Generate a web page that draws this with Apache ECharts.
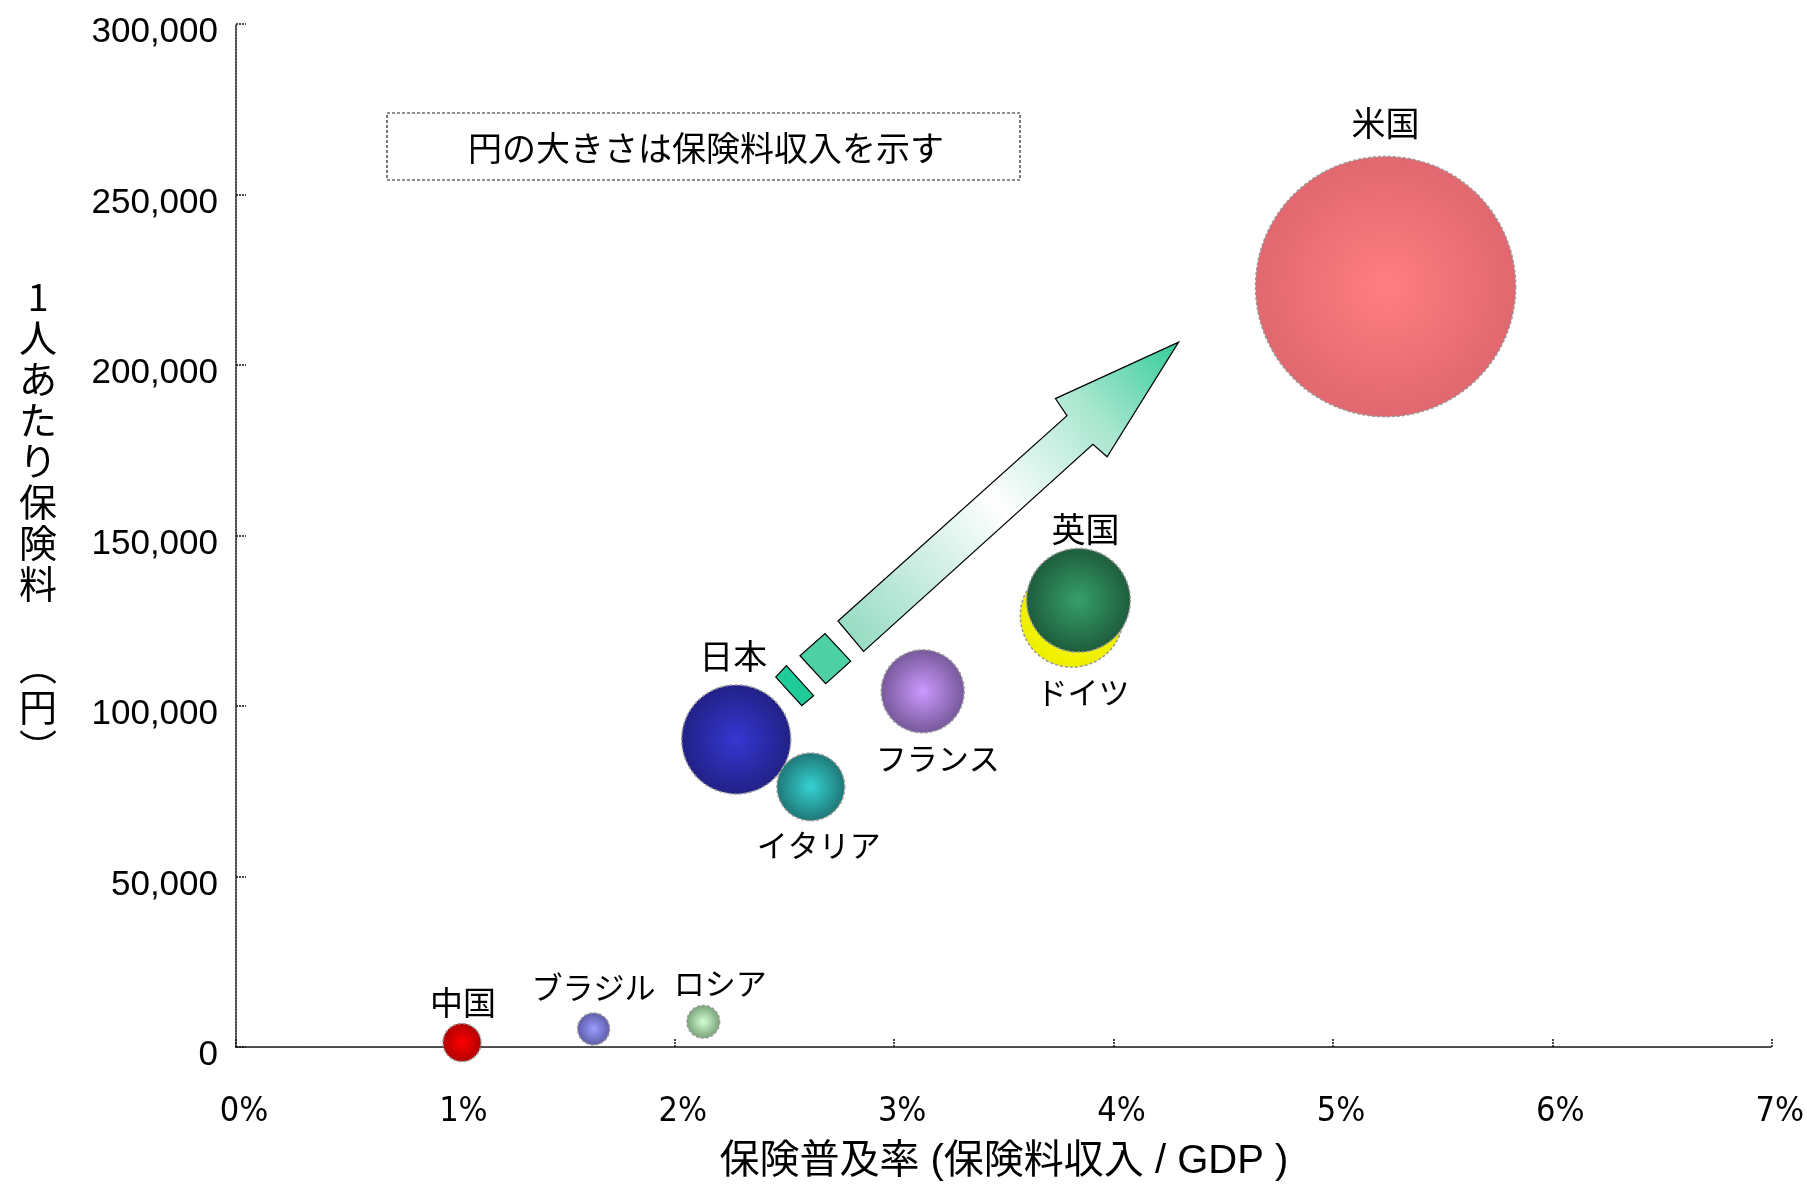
<!DOCTYPE html>
<html>
<head>
<meta charset="utf-8">
<script src="https://cdn.jsdelivr.net/npm/echarts@6/dist/echarts.min.js"></script>
<style>
html,body{margin:0;padding:0;background:#fff;}
#chart{width:1807px;height:1187px;}
</style>
</head>
<body>
<div id="chart"></div>
<script>
// ---- data ----
const categories = ['米国', 'ドイツ', '英国', 'フランス', '日本', 'イタリア', '中国', 'ブラジル', 'ロシア'];
const penetrationPct = [5.24, 3.81, 3.84, 3.13, 2.28, 2.62, 1.03, 1.63, 2.13];        // 保険普及率 (%)
const premiumPerCapitaYen = [223000, 126500, 131000, 104300, 90200, 76300, 1300, 5300, 7400]; // 1人あたり保険料 (円)
const premiumIncome = [64.9, 10.2, 10.3, 6.6, 11.4, 4.4, 1.39, 0.98, 1.02];            // 保険料収入 (bubble size, estimated)
const xTicks = [0, 1, 2, 3, 4, 5, 6, 7];
const yTicks = [0, 50000, 100000, 150000, 200000, 250000, 300000];
const xAxisTitle = '保険普及率 (保険料収入 / GDP )';
const yAxisTitle = ['1', '人', 'あ', 'た', 'り', '保', '険', '料', '　', '︵', '円', '︶'];
const noteText = '円の大きさは保険料収入を示す';

// ---- styles ----
const SIZE_K = 32.3;
const bubbleColors = {
  '米国': ['#FF7E82', '#E0686E'],
  'ドイツ': ['#FFFF10', '#EEEE00'],
  '英国': ['#36A06A', '#1E5C3C'],
  'フランス': ['#CC99FF', '#76589A'],
  '日本': ['#3636D2', '#212186'],
  'イタリア': ['#36D2D2', '#1E7676'],
  '中国': ['#FF0000', '#AE0000'],
  'ブラジル': ['#9C9CFF', '#5A5AA6'],
  'ロシア': ['#D2FFD2', '#78A078']
};
const labelStyles = {
  '米国': {position: 'top', distance: 16, fontSize: 34, offset: [0, 0]},
  'ドイツ': {position: 'bottom', distance: 9, fontSize: 31, offset: [11, 0]},
  '英国': {position: 'top', distance: 2, fontSize: 34, offset: [7, 0]},
  'フランス': {position: 'bottom', distance: 9, fontSize: 31, offset: [15, 0]},
  '日本': {position: 'top', distance: 11, fontSize: 34, offset: [-3, 0]},
  'イタリア': {position: 'bottom', distance: 8, fontSize: 31, offset: [8, 0]},
  '中国': {position: 'top', distance: 4, fontSize: 33, offset: [1, 0]},
  'ブラジル': {position: 'top', distance: 9, fontSize: 31, offset: [0, 0]},
  'ロシア': {position: 'top', distance: 6, fontSize: 31, offset: [17, 0]}
};
const JP = '"Noto Sans CJK JP", "Noto Sans CJK SC", sans-serif';

const seriesData = categories.map((name, i) => {
  const c = bubbleColors[name];
  const ls = labelStyles[name];
  return {
    name: name,
    value: [penetrationPct[i], premiumPerCapitaYen[i], premiumIncome[i]],
    itemStyle: {
      opacity: 1,
      color: {type: 'radial', x: 0.5, y: 0.5, r: 0.5,
        colorStops: [{offset: 0, color: c[0]}, {offset: 1, color: c[1]}]},
      borderColor: '#9a9a9a', borderWidth: 1.5, borderType: [3, 2]
    },
    label: {
      show: true, formatter: name, position: ls.position, distance: ls.distance,
      offset: ls.offset, fontSize: ls.fontSize, color: '#000', fontFamily: JP
    }
  };
});

const chart = echarts.init(document.getElementById('chart'), null, {renderer: 'canvas'});
const axisLineStyle = {color: '#111', width: 1.5, type: [2, 1]};

chart.setOption({
  animation: false,
  backgroundColor: '#fff',
  grid: {left: 236, right: 35, top: 24, bottom: 136, containLabel: false},
  xAxis: {
    type: 'value', min: xTicks[0], max: xTicks[xTicks.length - 1], interval: 1,
    splitLine: {show: false},
    axisLine: {show: true, lineStyle: axisLineStyle},
    axisTick: {show: true, inside: true, length: 9, lineStyle: axisLineStyle},
    axisLabel: {
      formatter: v => v + '%', fontSize: 34, color: '#000', margin: 48,
      fontFamily: '"Liberation Sans Narrow", "DejaVu Sans Condensed", "Liberation Sans", sans-serif',
      padding: [0, 0, 0, 16]
    },
    name: xAxisTitle, nameLocation: 'middle', nameGap: 95,
    nameTextStyle: {fontSize: 40, color: '#000', fontFamily: '"Liberation Sans", ' + JP}
  },
  yAxis: {
    type: 'value', min: yTicks[0], max: yTicks[yTicks.length - 1], interval: 50000,
    splitLine: {show: false},
    axisLine: {show: true, lineStyle: axisLineStyle},
    axisTick: {show: true, inside: true, length: 10, lineStyle: axisLineStyle},
    axisLabel: {
      formatter: v => v.toLocaleString('en-US'), fontSize: 35, color: '#000', margin: 18,
      fontFamily: '"Liberation Sans", Arial, sans-serif',
      verticalAlign: 'top', lineHeight: 17
    },
    name: yAxisTitle.join('\n') + '\n{s| }', nameLocation: 'middle', nameRotate: 0, nameGap: 198,
    nameTextStyle: {fontSize: 38, lineHeight: 41, color: '#000', fontFamily: JP,
      align: 'center', verticalAlign: 'middle',
      rich: {s: {fontSize: 10, lineHeight: 26}}}
  },
  graphic: [
    {
      type: 'group', z: 1,
      children: [
        {
          type: 'polygon',
          shape: {points: [[838, 621], [1067, 415.7], [1055.4, 398.6], [1178.6, 342.1],
                           [1107.1, 456.8], [1092.9, 444.3], [863.6, 651.4]]},
          style: {
            fill: {type: 'linear', x: 851, y: 636, x2: 1178, y2: 342, global: true,
              colorStops: [{offset: 0, color: '#97DCC3'}, {offset: 0.45, color: '#FFFFFF'},
                           {offset: 0.75, color: '#A8E6CF'}, {offset: 1, color: '#33CC99'}]},
            stroke: '#000', lineWidth: 1.2
          }
        },
        {
          type: 'polygon',
          shape: {points: [[800, 655.7], [825, 633.6], [850.7, 661.1], [825.7, 683.6]]},
          style: {fill: '#4CD0A4', stroke: '#000', lineWidth: 1.2}
        },
        {
          type: 'polygon',
          shape: {points: [[775.7, 677.1], [786.4, 665.7], [813.6, 695.7], [801.8, 705.7]]},
          style: {fill: '#1FCB98', stroke: '#000', lineWidth: 1.2}
        }
      ]
    },
    {
      type: 'rect', z: 1,
      shape: {x: 387, y: 113, width: 633, height: 67},
      style: {fill: '#fff', stroke: '#222', lineWidth: 1.2, lineDash: [3, 2]}
    },
    {
      type: 'text', z: 2, x: 706, y: 148,
      style: {text: noteText, fontSize: 34, fill: '#000', fontFamily: JP,
        textAlign: 'center', textVerticalAlign: 'middle'}
    }
  ],
  series: [{
    type: 'scatter', z: 3,
    symbol: 'circle',
    symbolSize: v => Math.sqrt(v[2]) * SIZE_K,
    itemStyle: {opacity: 1},
    data: seriesData
  }]
});
</script>
</body>
</html>
